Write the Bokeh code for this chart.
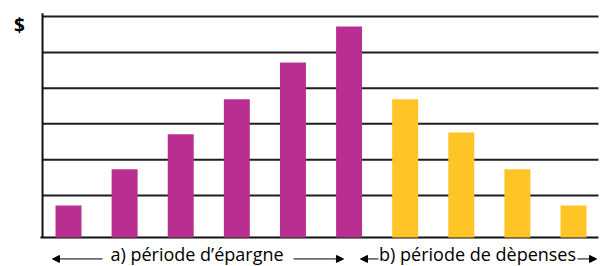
from bokeh.plotting import figure
from bokeh.models import Range1d, Arrow, NormalHead
from bokeh.core.properties import value
from bokeh.embed import file_html
from bokeh.resources import INLINE

# ---- data ----
saving_periods = [1, 2, 3, 4, 5, 6]
saving_values = [0.90, 1.91, 2.89, 3.87, 4.90, 5.91]
spending_periods = [7, 8, 9, 10]
spending_values = [3.87, 2.94, 1.91, 0.90]
grid_levels = [1.18, 2.18, 3.19, 4.18, 5.18, 6.19]
phase_labels = ["a) période d’épargne", "b) période de dèpenses"]
y_label = "$"

MAGENTA = "#B92F91"
YELLOW = "#FFC425"
FONT = "Open Sans"

p = figure(width=600, height=266, output_backend="svg", toolbar_location=None,
           x_range=Range1d(-0.212, 10.481), y_range=Range1d(-0.812, 6.639),
           min_border=0, x_axis_location=None, y_axis_location=None)
p.xgrid.visible = False
p.ygrid.visible = False
p.outline_line_color = None
p.background_fill_color = "white"
p.border_fill_color = "white"

x_left = 0.537
x_right = 10.445

# gridlines
p.segment(x0=[x_left] * len(grid_levels), x1=[x_right] * len(grid_levels),
          y0=grid_levels, y1=grid_levels, line_color="#1e1e1e", line_width=2)
# baseline and y axis
p.segment(x0=[0.50], x1=[x_right], y0=[0], y1=[0], line_color="#111111", line_width=2)
p.segment(x0=[x_left], x1=[x_left], y0=[0], y1=[6.28], line_color="#111111", line_width=2)

# bars
bw = 0.463
p.vbar(x=saving_periods, top=saving_values, bottom=0, width=bw,
       fill_color=MAGENTA, line_color=None)
p.vbar(x=spending_periods, top=spending_values, bottom=0, width=bw,
       fill_color=YELLOW, line_color=None)

# $ label
p.text(x=[0.127], y=[5.94], text=[y_label], text_font=value(FONT),
       text_font_size="19px", text_font_style="bold", text_align="center",
       text_baseline="middle", text_color="black")

# phase labels
p.text(x=[3.29, 8.29], y=[-0.47, -0.47], text=phase_labels, text_font=value(FONT),
       text_font_size="18px", text_align="center", text_baseline="middle",
       text_color="black")

# arrows
arrows = [(1.606, 0.715), (5.01, 5.90), (6.525, 6.204), (10.07, 10.41)]
for xs, xe in arrows:
    p.add_layout(Arrow(x_start=xs, x_end=xe, y_start=-0.60, y_end=-0.60,
                       line_width=1, line_color="black",
                       end=NormalHead(size=7, fill_color="black", line_color="black")))

open("out.html", "w").write(file_html(p, INLINE))
